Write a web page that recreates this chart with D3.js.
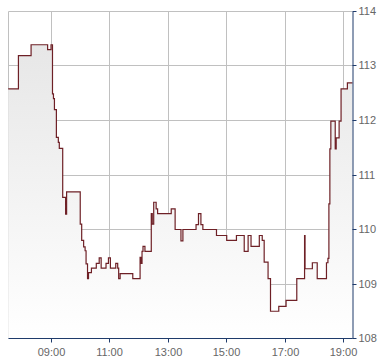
<!DOCTYPE html>
<html>
<head>
<meta charset="utf-8">
<script src="https://cdn.jsdelivr.net/npm/d3@7"></script>
<style>
html,body{margin:0;padding:0;background:#fff;}
svg{display:block;}
</style>
</head>
<body>
<svg id="chart" width="390" height="364"></svg>
<script>
// ---- data ----
const times = ["07:31","07:52","08:18","08:52","08:59","09:02","09:04","09:06","09:10","09:14",
  "09:16","09:23","09:29","09:31","09:59","10:02","10:06","10:09","10:11","10:14",
  "10:16","10:22","10:32","10:38","10:42","10:52","10:57","11:01","11:12","11:16",
  "11:18","11:21","11:47","12:02","12:04","12:06","12:08","12:12","12:25","12:27",
  "12:30","12:35","12:38","13:06","13:14","13:26","13:30","13:57","14:02","14:07",
  "14:11","14:39","15:00","15:20","15:36","15:44","15:50","16:07","16:13","16:17",
  "16:25","16:30","16:47","17:02","17:24","17:40","17:41","17:56","18:06","18:25",
  "18:28","18:30","18:32","18:34","18:43","18:45","18:51","18:55","19:08"];
const values = [112.58,113.19,113.39,113.30,113.39,112.49,112.40,112.20,111.69,111.60,
  111.49,110.59,110.28,110.69,110.10,109.80,109.68,109.61,109.37,109.10,
  109.21,109.29,109.38,109.48,109.29,109.38,109.48,109.29,109.38,109.29,
  109.10,109.19,109.10,109.49,109.38,109.60,109.69,109.60,110.29,110.10,
  110.50,110.38,110.29,110.38,110.00,109.79,110.00,110.09,110.29,110.09,
  110.00,109.89,109.80,109.89,109.60,109.89,109.69,109.89,109.80,109.40,
  109.10,108.50,108.59,108.70,109.10,109.89,109.28,109.39,109.10,109.39,
  109.47,110.47,111.48,111.99,111.48,111.68,111.99,112.58,112.69];
const xDomain = ["07:31:36","19:18:30"];
const xTickLabels = ["09:00","11:00","13:00","15:00","17:00","19:00"];
const yTicks = [108,109,110,111,112,113,114];

(function(){
const parse = s => {
  const p = s.split(":").map(Number);
  return new Date(2020,0,1,p[0],p[1],p[2]||0);
};
const data = times.map((t,i)=>({t:parse(t), v:values[i]}));
const tEnd = parse(xDomain[1]);
data.push({t:tEnd, v:values[values.length-1]});

const pL = 8.5, pR = 352.5, pT = 11.5, pB = 338.5;
const x = d3.scaleTime().domain(xDomain.map(parse)).range([pL,pR]);
const y = d3.scaleLinear().domain([108,114]).range([pB,pT]);

const svg = d3.select("#chart");
const defs = svg.append("defs");
const grad = defs.append("linearGradient").attr("id","fillGrad")
  .attr("gradientUnits","userSpaceOnUse")
  .attr("x1",0).attr("x2",0).attr("y1",pT).attr("y2",pB);
grad.append("stop").attr("offset","0%").attr("stop-color","#e4e4e4");
grad.append("stop").attr("offset","100%").attr("stop-color","#ffffff");

const gridColor = "#c0c0c0";
const xTickDates = xTickLabels.map(parse);
const sx = d => Math.round(x(d)-0.5)+0.5;
const sy = d => Math.round(y(d)-0.5)+0.5;
svg.append("g").selectAll("line").data(xTickDates).join("line")
  .attr("x1",sx).attr("x2",sx)
  .attr("y1",pT).attr("y2",pB)
  .attr("stroke",gridColor).attr("stroke-width",1);
svg.append("g").selectAll("line").data(yTicks).join("line")
  .attr("x1",pL).attr("x2",pR)
  .attr("y1",sy).attr("y2",sy)
  .attr("stroke",gridColor).attr("stroke-width",1);
svg.append("line").attr("x1",pL).attr("x2",pL).attr("y1",pT).attr("y2",pB)
  .attr("stroke",gridColor);

const area = d3.area().curve(d3.curveStepAfter)
  .x(d=>x(d.t)).y0(y(108)).y1(d=>y(d.v));
const line = d3.line().curve(d3.curveStepAfter)
  .x(d=>x(d.t)).y(d=>y(d.v));
svg.append("path").datum(data).attr("d",area).attr("fill","url(#fillGrad)");
svg.append("path").datum(data).attr("d",line)
  .attr("fill","none").attr("stroke","#6e2026").attr("stroke-width",1.2);

const axisColor = "#1f3b6b";
const textColor = "#666";
const font = "'Liberation Sans', Arial, sans-serif";
const xAxis = d3.axisBottom(x).tickValues(xTickDates)
  .tickFormat(d3.timeFormat("%H:%M")).tickSizeOuter(0).tickSizeInner(4).tickPadding(6);
const gx = svg.append("g").attr("transform",`translate(0,${pB})`).call(xAxis);
gx.select(".domain").attr("stroke",axisColor).attr("d",`M${pL},0H${pR}`);
gx.selectAll(".tick").attr("transform",d=>`translate(${sx(d)},0)`);
gx.selectAll(".tick line").attr("stroke",axisColor);
gx.selectAll(".tick text").attr("fill",textColor)
  .style("font-family",font).style("font-size","11px");

const yAxis = d3.axisRight(y).tickValues(yTicks).tickFormat(d3.format("d"))
  .tickSizeOuter(0).tickSizeInner(4).tickPadding(2);
const gy = svg.append("g").attr("transform",`translate(${pR},0)`).call(yAxis);
gy.select(".domain").attr("stroke",axisColor);
gy.selectAll(".tick").attr("transform",d=>`translate(0,${sy(d)})`);
gy.selectAll(".tick line").attr("stroke",axisColor);
gy.selectAll(".tick text").attr("fill",textColor)
  .style("font-family",font).style("font-size","11px");
})();
</script>
</body>
</html>
